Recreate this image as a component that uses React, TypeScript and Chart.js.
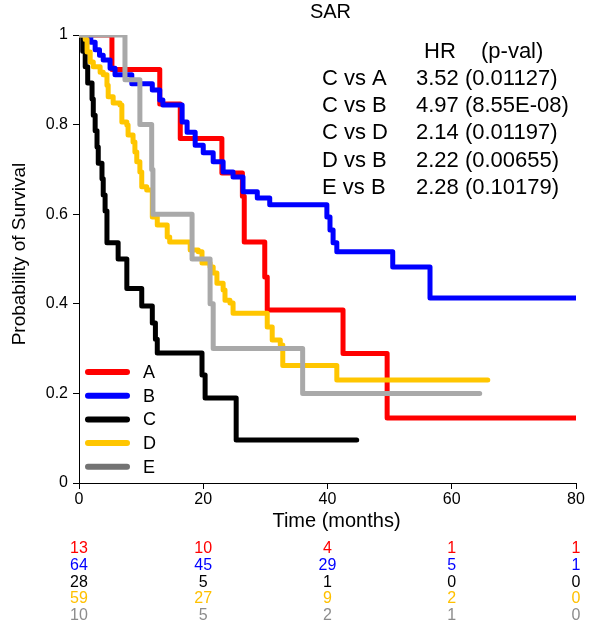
import React, { useEffect, useRef } from "react";
import { Chart, registerables } from "chart.js";
Chart.register(...registerables);

// ---- data ----
const groupNames = ["A", "B", "C", "D", "E"];
const curveColors = ["#FF0000", "#0000FF", "#000000", "#FFC600", "#A9A9A9"];
const legendColors = ["#FF0000", "#0000FF", "#000000", "#FFC600", "#737373"];
const riskColors = ["#FF0000", "#0000FF", "#000000", "#FFC000", "#8C8C8C"];

const xTickValues = [0, 20, 40, 60, 80];
const yTickValues = [0, 0.2, 0.4, 0.6, 0.8, 1];

const timeA = [0, 5.3, 13, 16.3, 23, 26.3, 26.6, 29.9, 30.3, 42.5, 49.6, 80];
const survA = [1, 0.923, 0.846, 0.769, 0.692, 0.64, 0.538, 0.46, 0.386, 0.289, 0.145, 0.145];

const timeB = [0, 1.9, 2.6, 3.3, 3.9, 5.0, 5.8, 8.5, 11.8, 13.0, 13.5, 16.6, 17.4, 18.7, 20.0, 21.6, 23.2, 24.8, 26.4, 28.7, 30.7, 39.9, 40.4, 40.9, 41.5, 50.5, 56.5, 80];
const survB = [1, 0.984, 0.967, 0.955, 0.944, 0.926, 0.911, 0.891, 0.877, 0.855, 0.844, 0.806, 0.783, 0.754, 0.737, 0.717, 0.694, 0.683, 0.65, 0.636, 0.621, 0.594, 0.565, 0.536, 0.516, 0.482, 0.413, 0.413];

const timeC = [0, 0.6, 1.0, 1.4, 2.1, 2.3, 2.6, 2.9, 3.1, 3.7, 3.9, 4.2, 4.5, 6.3, 7.7, 10.1, 11.8, 12.3, 12.6, 19.8, 20.3, 25.3, 44.7];
const survC = [1, 0.964, 0.929, 0.893, 0.857, 0.821, 0.786, 0.75, 0.714, 0.679, 0.643, 0.607, 0.536, 0.5, 0.434, 0.395, 0.357, 0.321, 0.29, 0.241, 0.19, 0.096, 0.096];

const timeD = [0, 1.0, 1.3, 1.8, 2.3, 3.4, 3.9, 4.5, 4.7, 5.5, 6.6, 6.9, 7.7, 7.9, 8.7, 9.0, 9.3, 9.8, 10.1, 10.9, 11.8, 12.6, 14.2, 14.6, 17.9, 19.2, 19.8, 21.1, 21.6, 22.2, 23.2, 23.5, 24.3, 24.8, 30.3, 31.1, 32.4, 32.8, 41.5, 65.8];
const survD = [1, 0.99, 0.962, 0.94, 0.929, 0.917, 0.911, 0.888, 0.862, 0.848, 0.844, 0.806, 0.799, 0.777, 0.761, 0.739, 0.717, 0.694, 0.661, 0.654, 0.594, 0.576, 0.549, 0.538, 0.52, 0.516, 0.491, 0.482, 0.469, 0.446, 0.431, 0.408, 0.402, 0.379, 0.348, 0.319, 0.308, 0.262, 0.23, 0.23];

const timeE = [0, 7.4, 9.8, 11.7, 11.9, 18.2, 21.1, 21.6, 36.0, 64.5];
const survE = [1, 0.9, 0.8, 0.7, 0.6, 0.5, 0.4, 0.3, 0.2, 0.2];

const riskA = [13, 10, 4, 1, 1];
const riskB = [64, 45, 29, 5, 1];
const riskC = [28, 5, 1, 0, 0];
const riskD = [59, 27, 9, 2, 0];
const riskE = [10, 5, 2, 1, 0];

const hrLabels = ["C vs A", "C vs B", "C vs D", "D vs B", "E vs B"];
const hrValues = ["3.52 (0.01127)", "4.97 (8.55E-08)", "2.14 (0.01197)", "2.22 (0.00655)", "2.28 (0.10179)"];

const times = [timeA, timeB, timeC, timeD, timeE];
const survs = [survA, survB, survC, survD, survE];
const risks = [riskA, riskB, riskC, riskD, riskE];

const overlayPlugin = {
  id: "overlay",
  afterDraw(chart: any) {
    const ctx = chart.ctx as CanvasRenderingContext2D;
    const xs = chart.scales.x;
    const area = chart.chartArea;
    const cx = (area.left + area.right) / 2;
    ctx.save();
    ctx.fillStyle = "#000";
    ctx.textBaseline = "middle";

    // title
    ctx.textAlign = "center";
    ctx.font = '20px "Liberation Sans"';
    ctx.fillText("SAR", cx + 3, 12);

    // x label
    ctx.font = '20px "Liberation Sans"';
    ctx.fillText("Time (months)", cx + 9, 521);

    // y label
    ctx.save();
    ctx.translate(20, 254);
    ctx.rotate(-Math.PI / 2);
    ctx.font = '19px "Liberation Sans"';
    ctx.fillText("Probability of Survival", 0, 0);
    ctx.restore();

    // HR table
    ctx.textAlign = "left";
    ctx.font = '22px "Liberation Sans"';
    ctx.fillText("HR", 424, 52);
    ctx.fillText("(p-val)", 481, 52);
    hrLabels.forEach((lab, i) => {
      const y = 79 + i * 27.2;
      ctx.fillText(lab, 322, y);
      ctx.fillText(hrValues[i], 416, y);
    });

    // legend
    groupNames.forEach((name, i) => {
      const y = 372 + i * 23.7;
      ctx.strokeStyle = legendColors[i];
      ctx.lineWidth = 6;
      ctx.lineCap = "round";
      ctx.beginPath();
      ctx.moveTo(88, y);
      ctx.lineTo(127, y);
      ctx.stroke();
      ctx.fillStyle = "#000";
      ctx.font = '18px "Liberation Sans"';
      ctx.fillText(name, 143, y + 1);
    });

    // at-risk table
    ctx.textAlign = "center";
    ctx.font = '16px "Liberation Sans"';
    risks.forEach((row, r) => {
      ctx.fillStyle = riskColors[r];
      const y = 549 + r * 16.6;
      row.forEach((v, c) => {
        ctx.fillText(String(v), xs.getPixelForValue(xTickValues[c]), y);
      });
    });
    ctx.restore();
  },
};

export default function App() {
  const ref = useRef<HTMLCanvasElement>(null);
  useEffect(() => {
    if (!ref.current) return;
    const datasets = groupNames.map((name, i) => ({
      label: name,
      data: times[i].map((t, j) => ({ x: t, y: survs[i][j] })),
      borderColor: curveColors[i],
      backgroundColor: curveColors[i],
      borderWidth: 5,
      pointRadius: 0,
      fill: false,
      stepped: "before" as const,
      borderCapStyle: "round" as const,
      borderJoinStyle: "round" as const,
      order: 4 - i,
    }));
    const chart = new Chart(ref.current, {
      type: "line",
      data: { datasets },
      options: {
        responsive: false,
        animation: false,
        layout: { padding: { top: 35, right: 14, left: 0, bottom: 0 } },
        plugins: { legend: { display: false }, tooltip: { enabled: false }, title: { display: false } },
        scales: {
          x: {
            type: "linear",
            min: 0,
            max: 80,
            afterFit: (s: any) => { s.height = 141; },
            afterBuildTicks: (s: any) => { s.ticks = xTickValues.map((v) => ({ value: v })); },
            ticks: { color: "#000", font: { family: "Liberation Sans", size: 16 }, padding: 1, maxRotation: 0 },
            grid: { drawOnChartArea: false, drawTicks: true, tickLength: 6, color: "#000", lineWidth: 1 },
            border: { display: true, color: "#000", width: 1 },
          },
          y: {
            type: "linear",
            min: 0,
            max: 1,
            afterFit: (s: any) => { s.width = 79; },
            afterBuildTicks: (s: any) => { s.ticks = yTickValues.map((v) => ({ value: v })); },
            ticks: { color: "#000", font: { family: "Liberation Sans", size: 16 }, padding: 5, callback: (v: any) => String(Math.round(v * 10) / 10) },
            grid: { drawOnChartArea: false, drawTicks: true, tickLength: 6, color: "#000", lineWidth: 1 },
            border: { display: true, color: "#000", width: 1 },
          },
        },
      },
      plugins: [overlayPlugin],
    });
    return () => chart.destroy();
  }, []);
  return (
    <div style={{ position: "absolute", left: 0, top: 0, width: 590, height: 624, background: "#fff" }}>
      <canvas ref={ref} width={590} height={624} />
    </div>
  );
}
